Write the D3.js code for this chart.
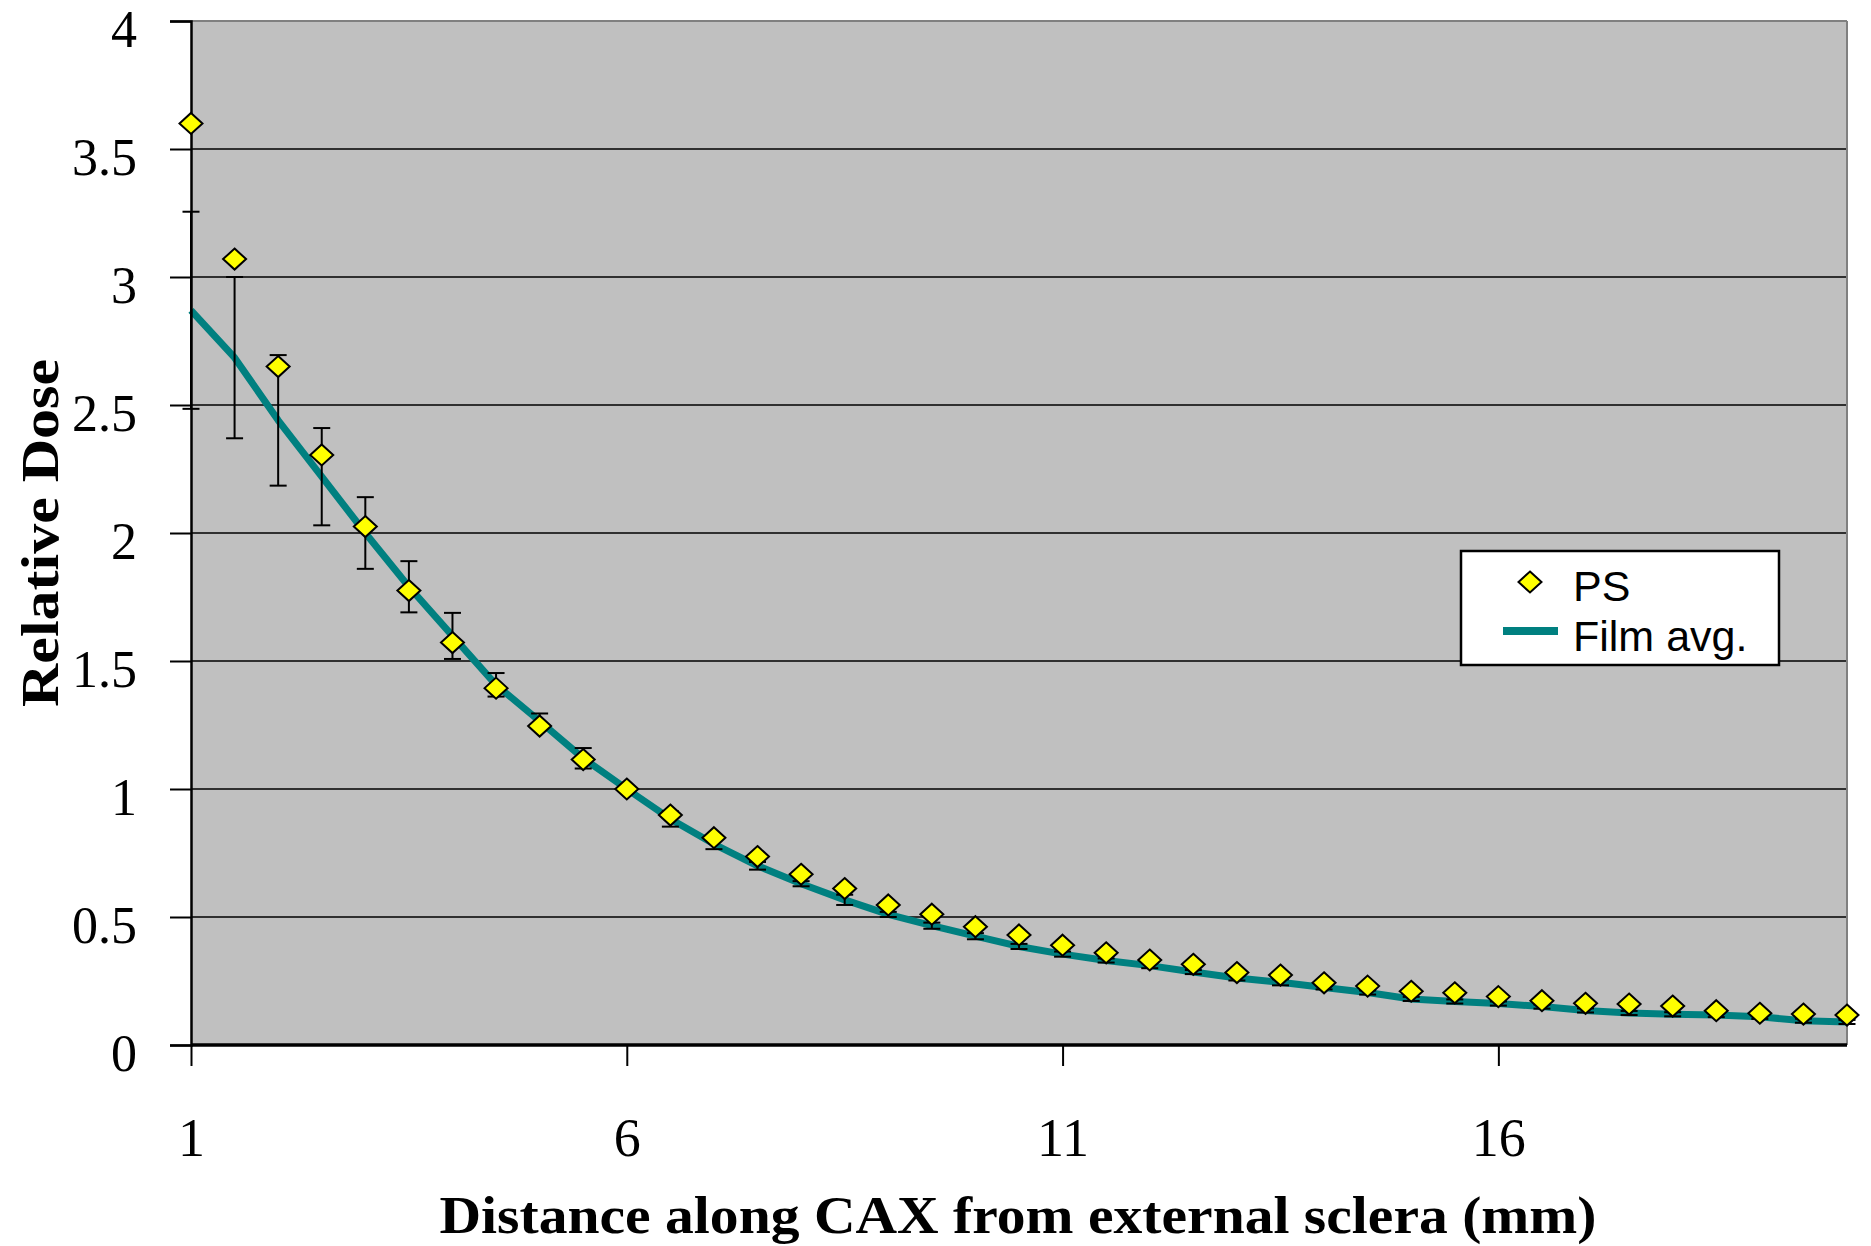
<!DOCTYPE html>
<html>
<head>
<meta charset="utf-8">
<script src="https://cdn.jsdelivr.net/npm/d3@7/dist/d3.min.js"></script>
<style>
  html, body { margin: 0; padding: 0; background: #fff; }
  svg { display: block; }
</style>
</head>
<body>
<svg id="chart" width="1871" height="1246"></svg>
<script>
// ---- data ----
const distances = [1,1.5,2,2.5,3,3.5,4,4.5,5,5.5,6,6.5,7,7.5,8,8.5,9,9.5,10,10.5,11,11.5,12,12.5,13,13.5,14,14.5,15,15.5,16,16.5,17,17.5,18,18.5,19,19.5,20];
const psValues = [3.60,3.07,2.65,2.305,2.025,1.775,1.572,1.394,1.246,1.115,1.0,0.898,0.81,0.736,0.667,0.611,0.547,0.511,0.462,0.43,0.39,0.36,0.332,0.315,0.283,0.273,0.243,0.23,0.21,0.204,0.189,0.173,0.163,0.16,0.152,0.134,0.124,0.121,0.117];
const filmAvg = [2.87,2.685,2.44,2.22,2.0,1.79,1.598,1.407,1.265,1.12,1.0,0.883,0.785,0.70,0.63,0.567,0.51,0.466,0.425,0.385,0.355,0.33,0.31,0.285,0.262,0.245,0.225,0.205,0.18,0.17,0.162,0.15,0.135,0.125,0.12,0.117,0.11,0.095,0.09];
const filmErr = [0.385,0.315,0.255,0.19,0.14,0.10,0.09,0.046,0.03,0.04,0,0.03,0.02,0.015,0.01,0.02,0.01,0.012,0.012,0.01,0.01,0.008,0.01,0.008,0.01,0.012,0.008,0.008,0.008,0.008,0.008,0.008,0.008,0.008,0.008,0.008,0.008,0.008,0.008];
const xTickValues = [1,6,11,16];
const yTickValues = [0,0.5,1,1.5,2,2.5,3,3.5,4];
const seriesNames = ["PS","Film avg."];
const xTitle = "Distance along CAX from external sclera (mm)";
const yTitle = "Relative Dose";

// ---- layout ----
const L = 191, R = 1847, T = 21, B = 1045;
const svg = d3.select("#chart");
const x = d3.scaleLinear().domain([1,20]).range([L,R]);
const y = d3.scaleLinear().domain([0,4]).range([B,T]);

// plot background
svg.append("rect").attr("x",L).attr("y",T).attr("width",R-L).attr("height",B-T).attr("fill","#C0C0C0");
// gridlines
svg.append("g").selectAll("line").data(yTickValues.filter(v=>v>0 && v<4)).join("line")
  .attr("x1",L).attr("x2",R).attr("y1",d=>y(d)).attr("y2",d=>y(d))
  .attr("stroke","#000").attr("stroke-width",1.5);
// top and right border (grey)
svg.append("line").attr("x1",L).attr("x2",R).attr("y1",T).attr("y2",T).attr("stroke","#808080").attr("stroke-width",2);
svg.append("line").attr("x1",R).attr("x2",R).attr("y1",T).attr("y2",B).attr("stroke","#808080").attr("stroke-width",2);

// film avg line
const pts = distances.map((d,i)=>({x:d, f:filmAvg[i], e:filmErr[i], p:psValues[i]}));
svg.append("path").datum(pts)
  .attr("d", d3.line().x(d=>x(d.x)).y(d=>y(d.f)))
  .attr("fill","none").attr("stroke","#008080").attr("stroke-width",7).attr("stroke-linejoin","round");

// error bars
const eb = svg.append("g").attr("stroke","#000").attr("stroke-width",2);
pts.filter(d=>d.e>0).forEach(d=>{
  const cx = x(d.x);
  eb.append("line").attr("x1",cx).attr("x2",cx).attr("y1",y(d.f-d.e)).attr("y2",y(d.f+d.e));
  eb.append("line").attr("x1",cx-8.5).attr("x2",cx+8.5).attr("y1",y(d.f-d.e)).attr("y2",y(d.f-d.e));
  eb.append("line").attr("x1",cx-8.5).attr("x2",cx+8.5).attr("y1",y(d.f+d.e)).attr("y2",y(d.f+d.e));
});

// axes
const yAxis = d3.axisLeft(y).tickValues(yTickValues).tickSize(21).tickPadding(33).tickFormat(d3.format("~g"));
const gy = svg.append("g").attr("transform",`translate(${L},0)`).call(yAxis);
gy.select(".domain").attr("stroke","#000").attr("stroke-width",2.5);
gy.selectAll(".tick line").attr("stroke","#000").attr("stroke-width",2);
gy.selectAll(".tick text").attr("font-family","'Liberation Serif', 'Times New Roman', serif")
  .attr("font-size",52).attr("fill","#000").attr("dy","25px");

const xAxis = d3.axisBottom(x).tickValues(xTickValues).tickSize(21).tickPadding(52).tickFormat(d3.format("d"));
const gx = svg.append("g").attr("transform",`translate(0,${B})`).call(xAxis);
gx.select(".domain").attr("stroke","#000").attr("stroke-width",3.5).attr("d",`M${L},0H${R}`);
gx.selectAll(".tick line").attr("stroke","#000").attr("stroke-width",2);
gx.selectAll(".tick text").attr("font-family","'Liberation Serif', 'Times New Roman', serif")
  .attr("font-size",54).attr("fill","#000");

// markers
const diamond = (cx,cy,w,h)=>`M${cx},${cy-h}L${cx+w},${cy}L${cx},${cy+h}L${cx-w},${cy}Z`;
svg.append("g").selectAll("path").data(pts).join("path")
  .attr("d",d=>diamond(x(d.x),y(d.p),11.5,10.5))
  .attr("fill","#FFFF00").attr("stroke","#000").attr("stroke-width",2);

// axis titles
svg.append("text").attr("x",1018).attr("y",1233).attr("text-anchor","middle")
  .attr("font-family","'Liberation Serif', 'Times New Roman', serif").attr("font-weight","bold")
  .attr("font-size",52).attr("textLength",1157).attr("lengthAdjust","spacingAndGlyphs").text(xTitle);
svg.append("text").attr("transform","translate(58,533) rotate(-90)").attr("text-anchor","middle")
  .attr("font-family","'Liberation Serif', 'Times New Roman', serif").attr("font-weight","bold")
  .attr("font-size",52).attr("textLength",348).attr("lengthAdjust","spacingAndGlyphs").text(yTitle);

// legend
const lg = svg.append("g");
lg.append("rect").attr("x",1461).attr("y",551).attr("width",318).attr("height",114)
  .attr("fill","#fff").attr("stroke","#000").attr("stroke-width",2.5);
lg.append("path").attr("d",diamond(1530,582,11.5,10.5)).attr("fill","#FFFF00").attr("stroke","#000").attr("stroke-width",2);
lg.append("line").attr("x1",1503).attr("x2",1558).attr("y1",631).attr("y2",631).attr("stroke","#008080").attr("stroke-width",8);
lg.append("text").attr("x",1573).attr("y",601).attr("font-family","'Liberation Sans', Arial, sans-serif").attr("font-size",43).text(seriesNames[0]);
lg.append("text").attr("x",1573).attr("y",651).attr("font-family","'Liberation Sans', Arial, sans-serif").attr("font-size",43).text(seriesNames[1]);
</script>
</body>
</html>
